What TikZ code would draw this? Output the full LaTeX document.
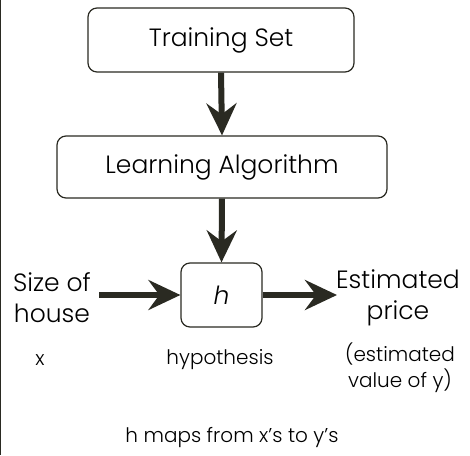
\documentclass[tikz,border=0pt]{standalone}
\usepackage{fontspec}
\setmainfont{Poppins Light}
\usetikzlibrary{arrows.meta}
\definecolor{ink}{HTML}{2A2A22}
\begin{document}
\begin{tikzpicture}[x=1pt,y=-1pt,
  box/.style={draw=ink,line width=1.2pt,rounded corners=9pt,inner sep=0pt,fill=white},
  bigarrow/.style={draw=ink,line width=6pt,-{Stealth[length=32pt,width=30pt,inset=11pt]}},
  lbl/.style={font=\fontsize{25}{31}\selectfont,align=center,inner sep=0pt,text=black},
  small/.style={font=\fontsize{20}{26}\selectfont,align=center,inner sep=0pt,text=black}]
\useasboundingbox (0,0) rectangle (470,455);
\draw[ink,line width=1.2pt] (0.6,0) -- (0.6,455);
\node[box,minimum width=266pt,minimum height=64pt,lbl] (ts) at (221,40) {Training Set};
\node[box,minimum width=330pt,minimum height=62pt,lbl] (la) at (222,167) {Learning Algorithm};
\node[box,minimum width=81pt,minimum height=64pt,lbl] (h) at (221.5,295) {\itshape h};
\node[lbl] (in) at (52,298) {Size of\\house};
\node[lbl] (out) at (398,298) {Estimated\\price};
\node[small] (x) at (40,360) {x};
\node[small] (hyp) at (220,360) {hypothesis};
\node[small] (est) at (400,368) {(estimated\\value of y)};
\node[small] (maps) at (232,438) {h maps from x’s to y’s};
\draw[bigarrow] (ts.south) -- (la.north);
\draw[bigarrow] (la.south) -- (h.north);
\draw[bigarrow] (99,295) coordinate (a0) -- (h.west);
\draw[bigarrow] (h.east) -- (337,295) coordinate (a1);
\end{tikzpicture}
\end{document}
